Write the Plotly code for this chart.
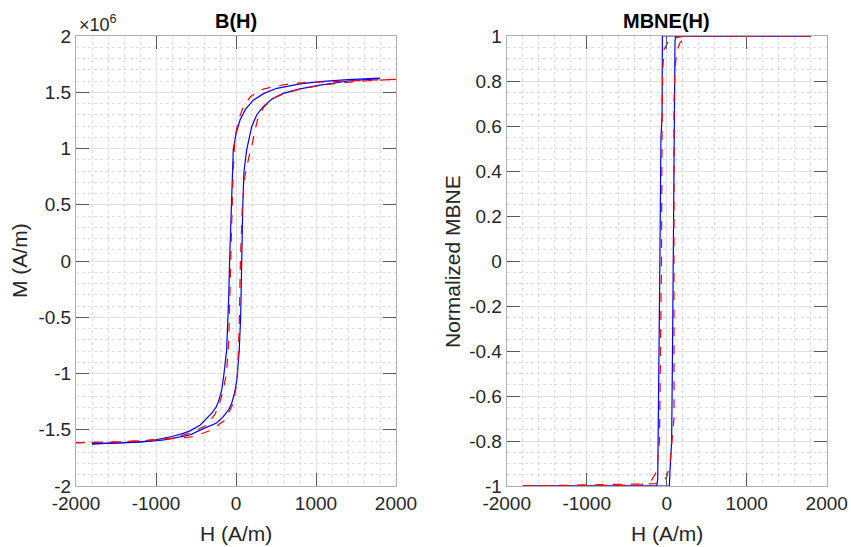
import plotly.graph_objects as go

# ---------------- data ----------------
# Left panel: M(H), M in units of 1e6 A/m
h_blue_desc = [1800, 1400, 1050, 800, 509, 350, 216, 120, 50, 0, -34, -55, -70, -80, -90, -117,
               -150, -179, -220, -250, -300, -367, -450, -575, -659, -800, -1075, -1400, -1800]
m_blue_desc = [1.625, 1.612, 1.594, 1.575, 1.535, 1.49, 1.43, 1.35, 1.253, 1.13, 0.99, 0.6, 0.2, 0.0, -0.3, -0.79,
               -1.0, -1.15, -1.25, -1.3, -1.35, -1.4, -1.46, -1.51, -1.532, -1.56, -1.6, -1.615, -1.625]

h_blue_asc = [-1800, -1500, -1200, -900, -742, -575, -409, -242, -159, -90, -54, -20, 10, 40, 58, 68,
              85, 100, 134, 196, 260, 341, 450, 591, 800, 1050, 1400, 1800]
m_blue_asc = [-1.625, -1.62, -1.61, -1.59, -1.567, -1.547, -1.49, -1.44, -1.384, -1.32, -1.265, -1.18, -1.06, -0.8, -0.5, 0.0,
              0.5, 0.8, 0.99, 1.194, 1.3, 1.372, 1.44, 1.49, 1.53, 1.564, 1.6, 1.622]

h_red_desc = [2000, 1500, 1000, 716, 500, 300, 180, 91, 30, -12, -35, -55, -70, -90, -120, -160,
              -200, -260, -367, -575, -825, -1200, -1600, -2000]
m_red_desc = [1.615, 1.605, 1.59, 1.58, 1.555, 1.52, 1.46, 1.37, 1.25, 1.105, 0.8, 0.3, -0.2, -0.7, -1.0, -1.15,
              -1.25, -1.36, -1.458, -1.532, -1.576, -1.6, -1.61, -1.615]

h_red_asc = [-2000, -1500, -1000, -534, -304, -137, -34, 16, 40, 55, 80, 110, 160, 196, 240, 279,
             350, 466, 600, 841, 1200, 1600, 2000]
m_red_asc = [-1.615, -1.61, -1.59, -1.562, -1.502, -1.413, -1.265, -1.06, -0.6, 0.0, 0.5, 0.75, 0.92, 1.016, 1.17, 1.283,
             1.37, 1.446, 1.49, 1.535, 1.575, 1.6, 1.615]

# Right panel: normalized MBNE(H)
hn_blue_desc = [1800, 110, -54, -58, -72, -85, -100, -112, -125, -1800]
n_blue_desc = [1.0, 1.0, 1.0, 0.64, 0.55, 0.0, -0.8, -0.97, -1.0, -1.0]

hn_blue_asc = [-1800, 33, 41, 62, 75, 83, 96, 104, 115, 1800]
n_blue_asc = [-1.0, -1.0, -0.935, -0.8, -0.3, 0.07, 0.64, 0.98, 1.0, 1.0]

hn_red_desc = [1800, 250, 150, 60, 20, -33, -50, -58, -65, -75, -90, -104, -125, -187, -334, -1800]
n_red_desc = [1.0, 1.0, 0.995, 0.985, 0.975, 0.94, 0.85, 0.6, 0.0, -0.5, -0.8, -0.855, -0.936, -0.973, -0.996, -1.0]

hn_red_asc = [-1800, -166, -60, 0, 41, 70, 91, 91, 104, 124, 166, 249, 1800]
n_red_asc = [-1.0, -0.99, -0.985, -0.96, -0.9, -0.8, -0.7, 0.7, 0.85, 0.93, 0.97, 1.0, 1.0]

x_ticks = [-2000, -1000, 0, 1000, 2000]
x_tick_text = ["-2000", "-1000", "0", "1000", "2000"]
m_ticks = [-2, -1.5, -1, -0.5, 0, 0.5, 1, 1.5, 2]
m_tick_text = ["-2", "-1.5", "-1", "-0.5", "0", "0.5", "1", "1.5", "2"]
n_ticks = [-1, -0.8, -0.6, -0.4, -0.2, 0, 0.2, 0.4, 0.6, 0.8, 1]
n_tick_text = ["-1", "-0.8", "-0.6", "-0.4", "-0.2", "0", "0.2", "0.4", "0.6", "0.8", "1"]

SCALE = 1e6

# ---------------- figure ----------------
W, H = 851, 547
fig = go.Figure()

BLUE = "#0000ff"
RED = "#ff0000"

def add(x, y, color, dash, xa, ya):
    fig.add_trace(go.Scatter(x=x, y=y, mode="lines", xaxis=xa, yaxis=ya,
                             line=dict(color=color, width=1.2, dash=dash),
                             showlegend=False, hoverinfo="skip"))

add(h_blue_desc, [v * SCALE for v in m_blue_desc], BLUE, "solid", "x", "y")
add(h_blue_asc, [v * SCALE for v in m_blue_asc], BLUE, "solid", "x", "y")
add(h_red_desc, [v * SCALE for v in m_red_desc], RED, "dash", "x", "y")
add(h_red_asc, [v * SCALE for v in m_red_asc], RED, "dash", "x", "y")

add(hn_blue_desc, n_blue_desc, BLUE, "solid", "x2", "y2")
add(hn_blue_asc, n_blue_asc, BLUE, "solid", "x2", "y2")
add(hn_red_desc, n_red_desc, RED, "dash", "x2", "y2")
add(hn_red_asc, n_red_asc, RED, "dash", "x2", "y2")

FONT = "Liberation Sans, Arial, sans-serif"
TICKF = dict(family=FONT, size=19, color="#262626")
GRID = "#e2e2e2"
MINOR = "#dedede"

def px_x(p):
    return p / W

def px_y(p):
    return 1 - p / H

axis_common = dict(
    showline=True, linecolor="#b0b0b0", linewidth=1, mirror="ticks",
    ticks="inside", ticklen=13, tickcolor="#5a5a5a", tickwidth=1,
    showgrid=True, gridcolor=GRID, gridwidth=1, zeroline=False,
    tickfont=TICKF, tickmode="array", fixedrange=True, automargin=False,
)

fig.update_layout(
    width=W, height=H, margin=dict(l=0, r=0, t=0, b=0, autoexpand=False),
    paper_bgcolor="white", plot_bgcolor="white",
    xaxis=dict(domain=[px_x(76), px_x(396)], range=[-2000, 2000], anchor="y",
               tickvals=x_ticks, ticktext=x_tick_text,
               minor=dict(dtick=200, tick0=0, showgrid=True, gridcolor=MINOR, griddash="dot", ticks=""),
               **axis_common),
    yaxis=dict(domain=[px_y(486), px_y(36)], range=[-2 * SCALE, 2 * SCALE], anchor="x",
               tickvals=[v * SCALE for v in m_ticks], ticktext=m_tick_text,
               minor=dict(dtick=0.1 * SCALE, tick0=0, showgrid=True, gridcolor=MINOR, griddash="dot", ticks=""),
               **axis_common),
    xaxis2=dict(domain=[px_x(506.7), px_x(826.7)], range=[-2000, 2000], anchor="y2",
                tickvals=x_ticks, ticktext=x_tick_text,
                minor=dict(dtick=200, tick0=0, showgrid=True, gridcolor=MINOR, griddash="dot", ticks=""),
                **axis_common),
    yaxis2=dict(domain=[px_y(486), px_y(36)], range=[-1, 1], anchor="x2",
                tickvals=n_ticks, ticktext=n_tick_text,
                minor=dict(dtick=0.05, tick0=0, showgrid=True, gridcolor=MINOR, griddash="dot", ticks=""),
                **axis_common),
)

LABF = dict(family=FONT, size=21, color="#262626")
TITF = dict(family=FONT, size=20, color="#000000")

ann = [
    dict(text="<b>B(H)</b>", x=px_x(236), y=px_y(21), font=TITF),
    dict(text="<b>MBNE(H)</b>", x=px_x(666.7), y=px_y(21), font=TITF),
    dict(text="H (A/m)", x=px_x(236), y=px_y(533), font=LABF),
    dict(text="H (A/m)", x=px_x(666.7), y=px_y(533), font=LABF),
    dict(text="M (A/m)", x=px_x(19), y=px_y(261), font=LABF, textangle=-90),
    dict(text="Normalized MBNE", x=px_x(452), y=px_y(261), font=LABF, textangle=-90),
    dict(text="×10<sup>6</sup>", x=px_x(77), y=px_y(24), font=dict(family=FONT, size=18, color="#262626"),
         xanchor="left"),
]
for a in ann:
    a.setdefault("xanchor", "center")
    fig.add_annotation(xref="paper", yref="paper", showarrow=False, yanchor="middle", **a)

fig.write_html(
    "out.html",
    config={"displayModeBar": False},
    post_script="document.body.style.margin='0';document.body.style.overflow='hidden';",
)
